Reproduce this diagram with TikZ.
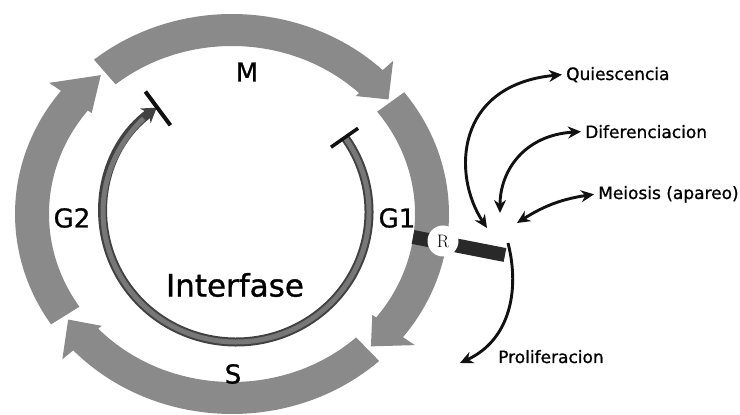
\documentclass[tikz,border=0pt]{standalone}
\usepackage{fontspec}
\setsansfont{DejaVu Sans}[FakeBold=1]
\usepackage{tikz}
\usetikzlibrary{arrows.meta}
\definecolor{ringgray}{HTML}{8A8A8A}
\definecolor{arcgray}{HTML}{777777}
\definecolor{ink}{HTML}{111111}

\begin{document}
\begin{tikzpicture}[x=1pt,y=1pt,font=\sffamily,
  phase/.style={fill=ringgray},
  phaselbl/.style={font=\sffamily\fontsize{26}{26}\selectfont,inner sep=0pt},
  fate/.style={font=\sffamily\fontsize{17}{17}\selectfont,anchor=base west,inner sep=0pt},
  fatearrow/.style={ink,line width=2.9,{Stealth[length=13,width=12]}-{Stealth[length=13,width=12]}},
  >={Stealth[length=13,width=12]}]
\useasboundingbox (0,0) rectangle (740,415);
% outer ring: M, G1, S, G2
\begin{scope}[shift={(232,201)}]
\foreach \a/\b/\c in {129.5/46/38.5,37.5/-38/-46,-47.3/-137/-145,-146.5/-218/-229}{
  \fill[phase] (\a:217 and 200) arc[start angle=\a,end angle=\b,x radius=217,y radius=200]
    -- (\b:232 and 213) -- (\c:200 and 184) -- (\b:178 and 164) -- (\b:183 and 168)
    arc[start angle=\b,end angle=\a,x radius=183,y radius=168] -- cycle;}
\end{scope}
% interfase loop with its two stops
\begin{scope}[shift={(236,203)}]
\draw[ink!80,line width=9,-{Stealth[length=14,width=18]}] (35:133 and 130) arc[start angle=35,end angle=-233.4,x radius=133,y radius=130];
\draw[arcgray,line width=5] (35:133 and 130) arc[start angle=35,end angle=-226,x radius=133,y radius=130];
\draw[ink,line width=4] (126.6:110 and 108) -- (126.6:152 and 150);
\draw[ink,line width=3.5] (35:116 and 113) -- (35:149 and 146);
\end{scope}
\node[phaselbl] (m) at (247,343) {M};
\node[phaselbl] (g2) at (72,197) {G2};
\node[phaselbl] (g1) at (397,197) {G1};
\node[phaselbl] (s) at (233,41) {S};
\node[font=\sffamily\fontsize{31}{31}\selectfont,inner sep=0pt] (interfase) at (235,130) {Interfase};
% restriction point
\coordinate (blockL) at (413,178);
\coordinate (blockR) at (505,160);
\draw[ink!90,line width=14] (blockL) -- (blockR);
\node[circle,fill=white,inner sep=0pt,minimum size=31,font=\rmfamily\fontsize{18}{18}\selectfont] (rpt) at (443,174) {R};
% cell fates
\node[fate] (quies) at (566,335) {Quiescencia};
\node[fate] (difer) at (585,277) {Diferenciacion};
\node[fate] (meio) at (598,216) {Meiosis (apareo)};
\node[fate] (prolif) at (498,52) {Proliferacion};
\coordinate (qfoot) at (487,187);
\coordinate (dfoot) at (500,202);
\coordinate (mfoot) at (517,192);
\coordinate (ptop) at (508,172);
\coordinate (ptip) at (460,52);
\draw[fatearrow] (qfoot) .. controls (452,240) and (455,330) .. ([xshift=-4]quies.west);
\draw[fatearrow] (dfoot) .. controls (500,245) and (525,280) .. ([xshift=-4]difer.west);
\draw[fatearrow] (mfoot) to[bend left=12] ([xshift=-4]meio.west);
\draw[ink,line width=2.9,->] (ptop) .. controls (520,125) and (510,75) .. (ptip);
\end{tikzpicture}
\end{document}
